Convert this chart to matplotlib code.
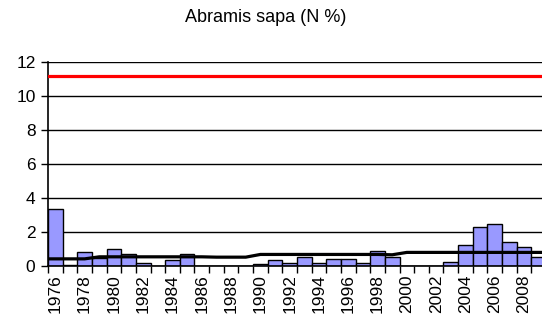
import matplotlib.pyplot as plt
import numpy as np

plt.rcParams['font.family'] = ['Liberation Sans', 'DejaVu Sans']

# роки
years = list(range(1976, 2010))

# частка виду, N %
share = [3.35, 0.05, 0.8, 0.5, 1.0, 0.72, 0.2, 0.02, 0.35, 0.69,
         0.0, 0.0, 0.0, 0.0, 0.12, 0.35, 0.2, 0.52, 0.2, 0.4,
         0.4, 0.2, 0.9, 0.55, 0.0, 0.0, 0.0, 0.25, 1.24, 2.27,
         2.5, 1.43, 1.1, 0.55]

# чорна лінія (середнє)
mean_line = [0.42, 0.42, 0.42, 0.54, 0.54, 0.54, 0.54, 0.54, 0.54, 0.54,
             0.54, 0.52, 0.52, 0.52, 0.68, 0.68, 0.68, 0.68, 0.68, 0.68,
             0.68, 0.68, 0.68, 0.66, 0.8, 0.8, 0.8, 0.8, 0.8, 0.8,
             0.8, 0.8, 0.8, 0.8]

# червона лінія
limit = 11.2

x = np.arange(len(years))

fig = plt.figure(figsize=(5.42, 3.29), dpi=100)
ax = fig.add_axes([48 / 542, 63 / 329, 498 / 542, 204 / 329])

ax.bar(x, share, width=1.0, color='#9999ff', edgecolor='black', linewidth=1, zorder=2)
ax.plot(np.r_[-0.5, x, x[-1] + 0.5], np.r_[mean_line[0], mean_line, mean_line[-1]],
        color='black', linewidth=2.3, zorder=3)
ax.axhline(limit, color='red', linewidth=2.3, zorder=3)

ax.set_xlim(-0.5, len(years) - 0.5)
ax.set_ylim(0, 12)
ax.set_yticks(range(0, 13, 2))
ax.yaxis.grid(True, color='black', linewidth=1)
ax.set_axisbelow(True)

ax.set_xticks(x[::2])
ax.set_xticklabels([str(y) for y in years[::2]], rotation=90)
ax.set_xticks(np.arange(-0.5, len(years)), minor=True)
ax.tick_params(axis='x', which='major', length=0, pad=6, labelsize=12.5)
ax.tick_params(axis='x', which='minor', length=5, width=1, color='black')
ax.tick_params(axis='y', length=5, width=1, labelsize=12.5, pad=4)

for s in ['top', 'right']:
    ax.spines[s].set_visible(False)
ax.spines['left'].set_linewidth(1.2)
ax.spines['bottom'].set_linewidth(1.2)

fig.text(266 / 542, 1 - 18 / 329, 'Abramis sapa (N %)', ha='center', va='center', fontsize=13)

fig.savefig('out.png', dpi=100)
